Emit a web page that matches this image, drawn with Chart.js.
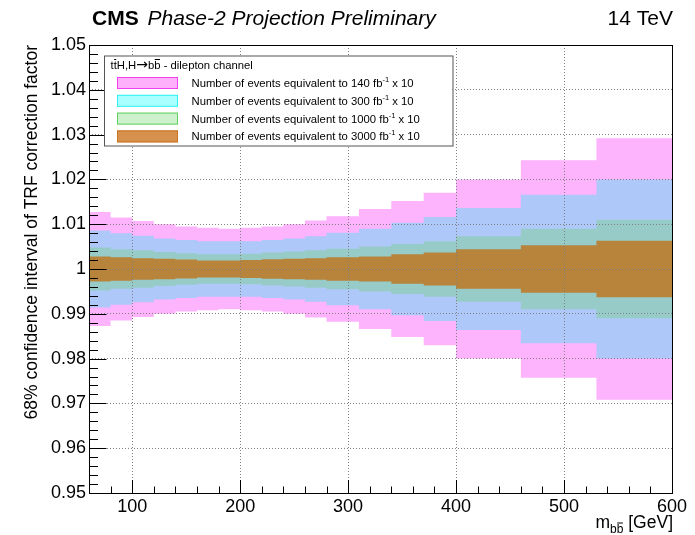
<!DOCTYPE html>
<html lang="en">
<head>
  <meta charset="UTF-8" />
  <title>TRF correction factor - 68% interval</title>
  <script src="https://cdn.jsdelivr.net/npm/chart.js@4"></script>
  <style>
    html, body { margin: 0; padding: 0; background: #fff; }
    #wrap { width: 695px; height: 535px; }
  </style>
</head>
<body>
  <div id="wrap"><canvas id="trfChart" width="695" height="535"></canvas></div>

  <script>
    // m(bb) bin edges [GeV]
    const binEdges = [60, 80, 100, 120, 140, 160, 180, 200, 220, 240, 260, 280, 310, 340, 370, 400, 460, 530, 600];

    // half width of the 68% interval around 1, per bin, for each luminosity
    const half140 = [0.0127, 0.0115, 0.0107, 0.0100, 0.0095, 0.0092, 0.0090, 0.0092, 0.0095, 0.0100, 0.0108, 0.0118, 0.0134, 0.0152, 0.0170, 0.0200, 0.0243, 0.0292];
    const half300 = [0.0086, 0.0080, 0.0074, 0.0068, 0.0065, 0.0062, 0.0062, 0.0062, 0.0065, 0.0068, 0.0073, 0.0081, 0.0090, 0.0103, 0.0116, 0.0136, 0.0166, 0.0200];
    const half1000 = [0.0048, 0.0044, 0.0042, 0.0038, 0.0035, 0.0033, 0.0033, 0.0034, 0.0037, 0.0039, 0.0042, 0.0045, 0.0050, 0.0056, 0.0062, 0.0073, 0.0090, 0.0110];
    const half3000 = [0.0028, 0.0026, 0.0024, 0.0023, 0.0021, 0.0019, 0.0019, 0.0020, 0.0022, 0.0023, 0.0024, 0.0026, 0.0028, 0.0033, 0.0037, 0.0044, 0.0053, 0.0063];

    const lumiLabels = ['140', '300', '1000', '3000'];

    const xTickValues = [100, 200, 300, 400, 500, 600];
    const yTickValues = [0.95, 0.96, 0.97, 0.98, 0.99, 1.00, 1.01, 1.02, 1.03, 1.04, 1.05];
    const yTickLabels = ['0.95', '0.96', '0.97', '0.98', '0.99', '1', '1.01', '1.02', '1.03', '1.04', '1.05'];

    const FONT = "'Liberation Sans', Arial, Helvetica, sans-serif";
    Chart.defaults.font.family = FONT;

    // band colours as they appear once stacked, and legend swatches
    const bandFill = ['#FEB3FD', '#AFC8FA', '#97CBC7', '#B8843B'];
    const swatchFill = ['#FFB0FB', '#AAFFFF', '#CDF1CD', '#D8914C'];
    const swatchLine = ['#F040F0', '#30F0F0', '#60D060', '#C87420'];

    function edgePoints(half, sign) {
      return binEdges.map((x, i) => ({ x, y: 1 + sign * half[Math.min(i, half.length - 1)] }));
    }

    const halves = [half140, half300, half1000, half3000];
    const datasets = [];
    halves.forEach((half, k) => {
      const common = {
        stepped: 'before',
        pointRadius: 0,
        borderWidth: 0,
        borderColor: 'rgba(0,0,0,0)',
        backgroundColor: bandFill[k],
        order: 4 - k
      };
      datasets.push({ ...common, label: lumiLabels[k] + ' up', data: edgePoints(half, 1), fill: '+1' });
      datasets.push({ ...common, label: lumiLabels[k] + ' down', data: edgePoints(half, -1), fill: false });
    });

    function minorValues(majors, sub, lo, hi) {
      const out = [];
      const step = majors[1] - majors[0];
      for (let v = majors[0] - step; v <= hi + 1e-9; v += step / sub) {
        if (v >= lo - 1e-9) out.push(v);
      }
      return out;
    }

    function drawPieces(ctx, pieces, x, baseline) {
      // pieces: {t, font, dy, bar}; returns end x
      pieces.forEach(p => {
        ctx.font = p.font;
        const w = ctx.measureText(p.t).width;
        ctx.fillText(p.t, x, baseline + (p.dy || 0));
        if (p.bar) {
          const top = baseline + (p.dy || 0) - p.barH;
          ctx.beginPath();
          ctx.lineWidth = 1;
          ctx.moveTo(x + 0.5, top);
          ctx.lineTo(x + w - 0.5, top);
          ctx.stroke();
        }
        x += w;
      });
      return x;
    }

    function piecesWidth(ctx, pieces) {
      return pieces.reduce((s, p) => { ctx.font = p.font; return s + ctx.measureText(p.t).width; }, 0);
    }

    const rootStyle = {
      id: 'rootStyle',
      afterDraw(chart) {
        const { ctx, chartArea: a, scales: { x, y } } = chart;
        ctx.save();
        ctx.strokeStyle = '#000';
        ctx.fillStyle = '#000';
        ctx.lineWidth = 1;

        // inward tick marks
        ctx.beginPath();
        minorValues(yTickValues, 5, y.min, y.max).forEach(v => {
          const py = Math.round(y.getPixelForValue(v)) + 0.5;
          const major = yTickValues.some(t => Math.abs(t - v) < 1e-6);
          ctx.moveTo(a.left, py);
          ctx.lineTo(a.left + (major ? 17.5 : 9), py);
        });
        minorValues(xTickValues, 5, x.min, x.max).forEach(v => {
          const px = Math.round(x.getPixelForValue(v)) + 0.5;
          const major = xTickValues.some(t => Math.abs(t - v) < 1e-6);
          ctx.moveTo(px, a.bottom);
          ctx.lineTo(px, a.bottom - (major ? 13 : 6.5));
        });
        ctx.stroke();

        // frame
        ctx.strokeRect(Math.round(a.left) + 0.5, Math.round(a.top) + 0.5,
          Math.round(a.right - a.left), Math.round(a.bottom - a.top));

        // header
        ctx.textBaseline = 'alphabetic';
        ctx.textAlign = 'left';
        ctx.font = 'bold 21px ' + FONT;
        ctx.fillText('CMS', 92, 25);
        ctx.font = 'italic 21px ' + FONT;
        ctx.fillText('Phase-2 Projection Preliminary', 147.5, 25);
        ctx.font = '21px ' + FONT;
        ctx.textAlign = 'right';
        ctx.fillText('14 TeV', a.right + 1, 25);

        // y axis title
        ctx.save();
        ctx.translate(37, a.top);
        ctx.rotate(-Math.PI / 2);
        ctx.font = '17.5px ' + FONT;
        ctx.textAlign = 'right';
        ctx.fillText('68% confidence interval of TRF correction factor', 0, 0);
        ctx.restore();

        // x axis title
        ctx.textAlign = 'left';
        const big = '17.5px ' + FONT, small = '12px ' + FONT;
        const xTitle = [
          { t: 'm', font: big },
          { t: 'b', font: small, dy: 5 },
          { t: 'b', font: small, dy: 5, bar: true, barH: 10 },
          { t: ' [GeV]', font: big }
        ];
        drawPieces(ctx, xTitle, a.right + 1 - piecesWidth(ctx, xTitle), 528);

        // legend box
        const L = { x0: 104, y0: 55.5, x1: 452.5, y1: 145.5 };
        ctx.fillStyle = '#fff';
        ctx.fillRect(L.x0, L.y0, L.x1 - L.x0, L.y1 - L.y0);
        ctx.strokeStyle = '#555';
        ctx.strokeRect(L.x0 + 0.5, L.y0 + 0.5, L.x1 - L.x0, L.y1 - L.y0);
        ctx.fillStyle = '#000';
        ctx.strokeStyle = '#000';
        const lf = '11.3px ' + FONT;
        drawPieces(ctx, [
          { t: 't', font: lf },
          { t: 't', font: lf, bar: true, barH: 9 },
          { t: 'H,H', font: lf },
          { t: '\u2192', font: "14px 'DejaVu Sans', sans-serif", dy: 0.5 },
          { t: 'b', font: lf },
          { t: 'b', font: lf, bar: true, barH: 9 },
          { t: ' - dilepton channel', font: lf }
        ], 110.5, 68.5);

        lumiLabels.forEach((lumi, k) => {
          const cy = 83 + k * 17.8;
          ctx.fillStyle = swatchFill[k];
          ctx.fillRect(117, cy - 6, 61, 12);
          ctx.strokeStyle = swatchLine[k];
          ctx.strokeRect(117.5, cy - 5.5, 60, 11);
          ctx.fillStyle = '#000';
          drawPieces(ctx, [
            { t: 'Number of events equivalent to ' + lumi + ' fb', font: lf },
            { t: '-1', font: '7.5px ' + FONT, dy: -5 },
            { t: ' x 10', font: lf }
          ], 191.5, cy + 4);
        });

        ctx.restore();
      }
    };

    new Chart(document.getElementById('trfChart'), {
      type: 'line',
      data: { datasets },
      options: {
        responsive: false,
        animation: false,
        layout: { padding: { left: 0, top: 45, right: 23, bottom: 0 } },
        plugins: { legend: { display: false }, tooltip: { enabled: false } },
        scales: {
          x: {
            type: 'linear',
            min: 60,
            max: 600,
            afterBuildTicks: s => { s.ticks = xTickValues.map(v => ({ value: v })); },
            afterFit: s => { s.height = 42; },
            ticks: { color: '#000', font: { size: 18 }, padding: 3, maxRotation: 0 },
            grid: { color: '#808080', lineWidth: 1, drawTicks: false, z: 1 },
            border: { display: false, dash: [1, 2] }
          },
          y: {
            type: 'linear',
            min: 0.95,
            max: 1.05,
            afterBuildTicks: s => { s.ticks = yTickValues.map(v => ({ value: v })); },
            afterFit: s => { s.width = 89; },
            ticks: { color: '#000', font: { size: 18 }, padding: 3, callback: (v, i) => yTickLabels[i] },
            grid: { color: '#808080', lineWidth: 1, drawTicks: false, z: 1 },
            border: { display: false, dash: [1, 2] }
          }
        }
      },
      plugins: [rootStyle]
    });
  </script>
</body>
</html>
